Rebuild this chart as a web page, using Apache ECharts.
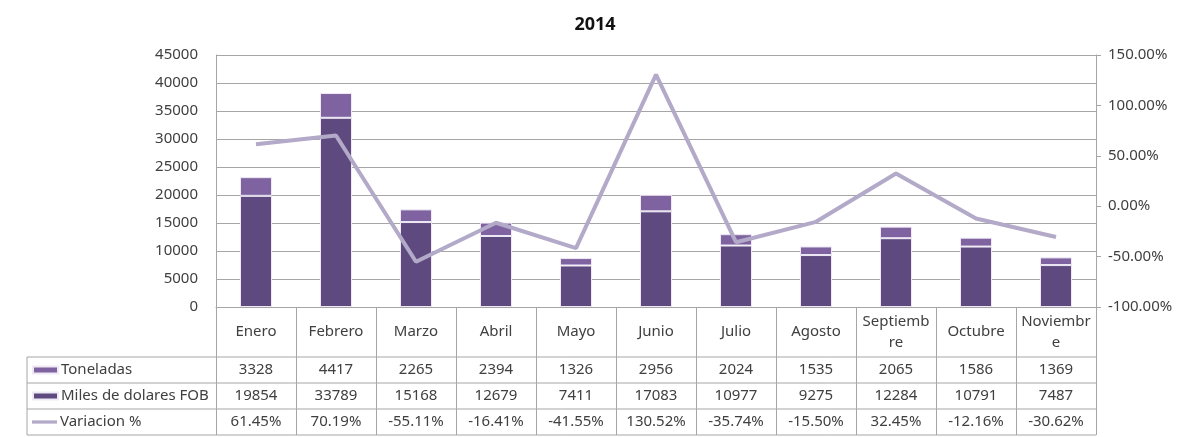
<!DOCTYPE html>
<html lang="es">
<head>
    <meta charset="UTF-8">
    <title>2014</title>
    <script src="https://cdn.jsdelivr.net/npm/echarts@6/dist/echarts.min.js"></script>
    <style>
        html, body { margin: 0; padding: 0; background: #fff; }
        #main { width: 1190px; height: 437px; }
    </style>
</head>
<body>
    <div id="main"></div>
    <script>
        // datos
        const meses = ['Enero', 'Febrero', 'Marzo', 'Abril', 'Mayo', 'Junio', 'Julio', 'Agosto', 'Septiembre', 'Octubre', 'Noviembre'];
        const toneladas = [3328, 4417, 2265, 2394, 1326, 2956, 2024, 1535, 2065, 1586, 1369];
        const milesFOB = [19854, 33789, 15168, 12679, 7411, 17083, 10977, 9275, 12284, 10791, 7487];
        const variacion = [61.45, 70.19, -55.11, -16.41, -41.55, 130.52, -35.74, -15.50, 32.45, -12.16, -30.62];
        const seriesNames = ['Toneladas', 'Miles de dolares FOB', 'Variacion %'];

        const font = 'Noto Sans';
        const fontSize = 15;
        const textColor = '#404040';
        const lineGrey = '#A6A6A6';

        // colores
        const colTon = '#7F63A1';
        const colMiles = '#5F4A7F';
        const colVar = '#B3A9C8';

        // geometria de la tabla
        const gLeft = 216, gRight = 1096, gTop = 55, gBottom = 307;
        const rowY = [357, 383, 409, 435];
        const tableLeft = 27;

        function rowAxis(data, offset, fmt) {
            return {
                type: 'category',
                position: 'bottom',
                offset: offset,
                data: data,
                axisLine: { show: false },
                axisTick: { show: false },
                splitLine: { show: false },
                axisLabel: {
                    interval: 0,
                    margin: 13,
                    verticalAlign: 'middle',
                    color: textColor,
                    fontFamily: font,
                    fontSize: fontSize,
                    formatter: fmt
                }
            };
        }

        const tableLines = rowY.map(y => ({
            type: 'line',
            shape: { x1: tableLeft, y1: y, x2: gRight, y2: y },
            style: { stroke: lineGrey, lineWidth: 1 }
        }));
        tableLines.push({
            type: 'line',
            shape: { x1: tableLeft, y1: rowY[0], x2: tableLeft, y2: rowY[3] },
            style: { stroke: lineGrey, lineWidth: 1 }
        });

        // una leyenda por fila de la tabla
        const icons = ['rect', 'rect', 'path://M0,0 L10,0 L10,1.3 L0,1.3 Z'];
        const legends = seriesNames.map((name, i) => ({
            orient: 'vertical',
            left: 32,
            top: (rowY[i] + rowY[i + 1]) / 2 - 10,
            padding: 0,
            itemWidth: 25,
            itemHeight: 7,
            itemGap: 0,
            textStyle: { fontFamily: font, fontSize: fontSize, color: textColor, lineHeight: 20, padding: [0, 0, 0, -2] },
            data: [{ name: name, icon: icons[i] }]
        }));

        const option = {
            backgroundColor: '#fff',
            animation: false,
            title: {
                text: '2014',
                left: 'center',
                top: 11,
                textStyle: { fontFamily: font, fontSize: 18, fontWeight: 'bold', color: '#111' }
            },
            legend: legends,
            grid: {
                left: gLeft,
                right: 1190 - gRight,
                top: gTop,
                bottom: 437 - gBottom
            },
            xAxis: [
                {
                    type: 'category',
                    data: meses,
                    axisLine: { show: true, lineStyle: { color: lineGrey } },
                    axisTick: { show: true, interval: 0, length: rowY[3] - gBottom, lineStyle: { color: lineGrey } },
                    axisLabel: {
                        interval: 0,
                        margin: 25,
                        verticalAlign: 'middle',
                        color: textColor,
                        fontFamily: font,
                        fontSize: fontSize,
                        lineHeight: 21,
                        width: 71,
                        overflow: 'break'
                    }
                },
                rowAxis(toneladas, rowY[0] - gBottom, v => v),
                rowAxis(milesFOB, rowY[1] - gBottom, v => v),
                rowAxis(variacion, rowY[2] - gBottom, v => Number(v).toFixed(2) + '%')
            ],
            yAxis: [
                {
                    type: 'value',
                    min: 0,
                    max: 45000,
                    interval: 5000,
                    axisLine: { show: true, lineStyle: { color: lineGrey } },
                    axisTick: { show: false },
                    splitLine: { show: true, lineStyle: { color: lineGrey } },
                    axisLabel: { margin: 18, color: textColor, fontFamily: font, fontSize: fontSize, formatter: v => String(v) }
                },
                {
                    type: 'value',
                    min: -100,
                    max: 150,
                    interval: 50,
                    axisLine: { show: true, lineStyle: { color: lineGrey } },
                    axisTick: { show: true, length: 5, lineStyle: { color: lineGrey } },
                    splitLine: { show: false },
                    axisLabel: {
                        margin: 12,
                        color: textColor,
                        fontFamily: font,
                        fontSize: fontSize,
                        formatter: v => v.toFixed(2) + '%'
                    }
                }
            ],
            series: [
                {
                    name: 'Miles de dolares FOB',
                    type: 'bar',
                    stack: 'total',
                    barWidth: '40%',
                    data: milesFOB,
                    itemStyle: { color: colMiles, borderColor: '#EEE9F4', borderWidth: 1 }
                },
                {
                    name: 'Toneladas',
                    type: 'bar',
                    stack: 'total',
                    barWidth: '40%',
                    data: toneladas,
                    itemStyle: { color: colTon, borderColor: '#EEE9F4', borderWidth: 1 }
                },
                {
                    name: 'Variacion %',
                    type: 'line',
                    yAxisIndex: 1,
                    data: variacion,
                    symbol: 'none',
                    lineStyle: { color: colVar, width: 4 },
                    itemStyle: { color: colVar }
                }
            ],
            graphic: tableLines
        };

        const chart = echarts.init(document.getElementById('main'));
        chart.setOption(option);
    </script>
</body>
</html>
